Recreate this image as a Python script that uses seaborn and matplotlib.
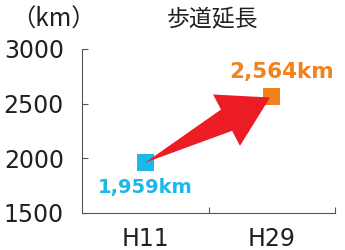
import numpy as np
import pandas as pd
import matplotlib
matplotlib.use("Agg")
import matplotlib.pyplot as plt
import seaborn as sns
from matplotlib.patches import Polygon
from matplotlib.ticker import FixedLocator

# ---- data ----
years = ["H11", "H29"]
lengths = [1959, 2564]
value_labels = ["1,959km", "2,564km"]
y_ticks = [1500, 2000, 2500, 3000]
title = "歩道延長"
unit = "（km）"

CYAN = "#1BB9EA"
ORANGE = "#F0831F"
RED = "#EC1C24"
TEXT = "#231F20"
AXIS = "#555555"

sns.set_theme(style="ticks")
plt.rcParams["font.family"] = ["DejaVu Sans", "Noto Sans CJK JP"]

W, H = 345, 250
fig = plt.figure(figsize=(W / 100, H / 100), dpi=100)
ax = fig.add_axes([82 / W, 1 - 212.7 / H, (335 - 82) / W, (212.7 - 49) / H])

df = pd.DataFrame({"year": years, "length": lengths})
sns.scatterplot(data=df, x="year", y="length", hue="year",
                palette=[CYAN, ORANGE], marker="s", s=150, linewidth=0,
                legend=False, ax=ax, zorder=3)

ax.set_xlim(-0.5, 1.5)
ax.set_ylim(y_ticks[0], y_ticks[-1])
ax.set_yticks(y_ticks)
ax.set_xticks(range(len(years)), years)
ax.xaxis.set_minor_locator(FixedLocator([0.5, 1.5]))
ax.set_xlabel("")
ax.set_ylabel("")
ax.tick_params(axis="x", which="major", length=0, pad=10, labelsize=17,
               labelcolor=TEXT)
ax.tick_params(axis="x", which="minor", direction="in", length=4, width=0.8,
               color=AXIS)
ax.tick_params(axis="y", direction="in", length=4, width=0.8, color=AXIS,
               pad=13, labelsize=17, labelcolor=TEXT)
sns.despine(ax=ax)
for s in ("left", "bottom"):
    ax.spines[s].set_color(AXIS)
    ax.spines[s].set_linewidth(0.8)

# ---- arrow from H11 point to H29 point (computed from data positions) ----
p0 = ax.transData.transform((0, lengths[0]))
p1 = ax.transData.transform((1, lengths[1]))
d = p1 - p0
u = d / np.hypot(*d)
n = np.array([-u[1], u[0]])
tip = p1 - u * 2
base = tip - u * 49
pts = np.array([p0, base + n * 12, base + n * 29, tip, base - n * 29, base - n * 12])
ax.add_patch(Polygon(ax.transData.inverted().transform(pts), closed=True,
                     facecolor=RED, edgecolor="none", zorder=4))

# ---- value labels ----
ax.annotate(value_labels[0], xy=(0, lengths[0]), xytext=(0, -17.6),
            textcoords="offset points", ha="center", va="center",
            color=CYAN, fontsize=14, fontweight="bold", zorder=5)
ax.annotate(value_labels[1], xy=(1, lengths[1]), xytext=(6.8, 17.6),
            textcoords="offset points", ha="center", va="center",
            color=ORANGE, fontsize=15.5, fontweight="bold", zorder=5)

# ---- title and unit ----
fig.text(213 / W, 1 - 20 / H, title, ha="center", va="center", fontsize=16.5,
         color=TEXT, family=["Noto Sans CJK JP"])
fig.text(53 / W, 1 - 20 / H, unit, ha="center", va="center", fontsize=17.5,
         color=TEXT, family=["Noto Sans CJK JP"])

fig.savefig("out.png", dpi=100)
